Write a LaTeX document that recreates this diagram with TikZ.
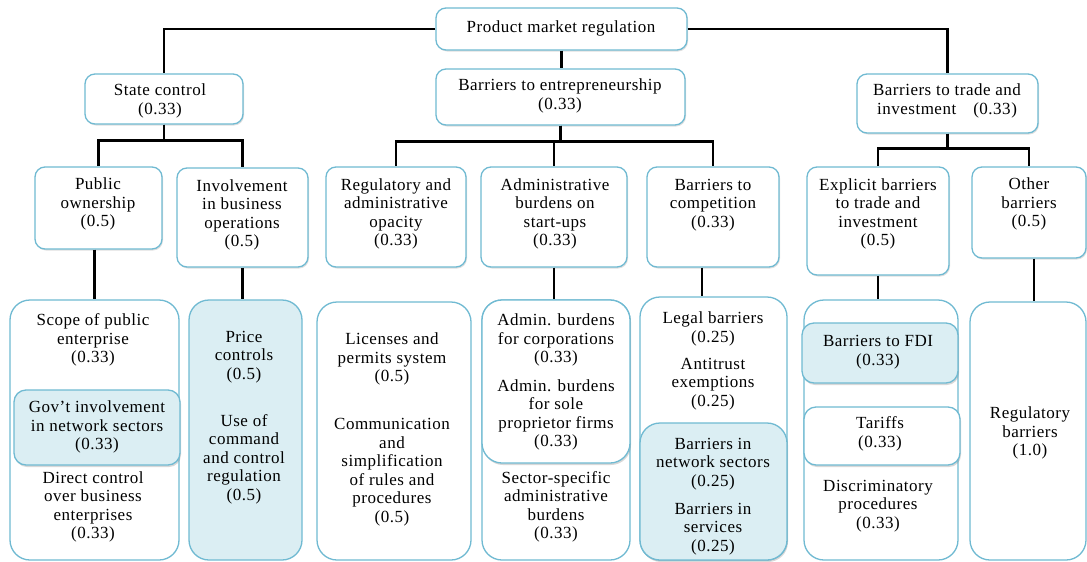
\documentclass[tikz,border=0pt]{standalone}
\usepackage{fontspec}
\setmainfont[LetterSpace=3]{Liberation Serif}
\usetikzlibrary{fit,shadows}
\definecolor{bxline}{RGB}{112,186,210}
\definecolor{bxfill}{RGB}{219,238,243}
\tikzset{
  upbox/.style={draw=bxline, line width=1.3pt, fill=white, rounded corners=10pt, inner sep=0pt,
    drop shadow={opacity=0.25, shadow xshift=1pt, shadow yshift=-1.5pt}},
  lowbox/.style={draw=bxline, line width=1.3pt, fill=white, rounded corners=20pt, inner sep=0pt},
  innerbox/.style={draw=bxline, line width=1.3pt, fill=white, rounded corners=12pt, inner sep=0pt,
    drop shadow={opacity=0.3, shadow xshift=1pt, shadow yshift=-2pt}},
  bluebox/.style={innerbox, fill=bxfill},
  lbl/.style={align=center, inner sep=0pt, text=black},
  conn/.style={draw=black, line width=2.4pt}
}
\begin{document}
\begin{tikzpicture}[x=1pt,y=-1pt, font=\fontsize{17}{18.5}\selectfont]
\useasboundingbox[fill=white] (0,0) rectangle (1087,562);

% ---------- upper level boxes ----------
\node[upbox, fit={(436,8)(687,50)}] (top) {};
\node[upbox, fit={(85,74)(243,124)}] (sc) {};
\node[upbox, fit={(436,69)(685,125)}] (be) {};
\node[upbox, fit={(857,74)(1038,133)}] (tr) {};

\node[upbox, fit={(35,167)(162,249)}] (pub) {};
\node[upbox, fit={(177,168)(308,267)}] (inv) {};
\node[upbox, fit={(326,167)(466,267)}] (reg) {};
\node[upbox, fit={(481,167)(627,267)}] (adm) {};
\node[upbox, fit={(647,167)(779,267)}] (comp) {};
\node[upbox, fit={(807,167)(949,275)}] (ex) {};
\node[upbox, fit={(972,167)(1086,258)}] (oth) {};

% ---------- lower level boxes ----------
\node[lowbox, fit={(10,300)(179,560)}] (scope) {};
\node[bluebox, fit={(14,390)(180,465)}] (gov) {};
\node[lowbox, fill=bxfill, fit={(189,300)(302,560)}] (price) {};
\node[lowbox, fit={(317,302)(471,560)}] (lic) {};
\node[lowbox, fit={(482,300)(630,560)}] (admL) {};
\node[innerbox, rounded corners=20pt, fit={(482,300)(630,463)}] (admI) {};
\node[lowbox, fit={(640,297)(787,560)}] (compL) {};
\node[bluebox, rounded corners=20pt, fit={(640,423)(787,560)}] (net) {};
\node[lowbox, fit={(804,300)(958,560)}] (exL) {};
\node[bluebox, fit={(802,323)(958,383)}] (fdi) {};
\node[innerbox, fit={(804,407)(960,465)}] (tar) {};
\node[lowbox, fit={(970,302)(1086,560)}] (othL) {};

% ---------- connectors ----------
\draw[conn] (top.west) -| (sc.north);
\draw[conn] (top.east) -| (tr.north);
\draw[conn] (top.south) -- (top.south |- be.north);
\draw[conn] (sc.south) -- ++(0,16) -| (pub.north);
\draw[conn] (sc.south) -- ++(0,16) -| (inv.north);
\draw[conn] (be.south) -- ++(0,16) -| (reg.north);
\draw[conn] (be.south) -- ++(0,16) -| (adm.north);
\draw[conn] (be.south) -- ++(0,16) -| (comp.north);
\draw[conn] (tr.south) -- ++(0,15) -| (ex.north);
\draw[conn] (tr.south) -- ++(0,15) -| (oth.north);
\draw[conn] (scope.north |- pub.south) -- (scope.north);
\draw[conn] (inv.south) -- (inv.south |- price.north);
\draw[conn] (adm.south) -- (adm.south |- admI.north);
\draw[conn] ([xshift=-11pt]comp.south) -- ([xshift=-11pt]comp.south |- compL.north);
\draw[conn] (ex.south) -- (ex.south |- exL.north);
\draw[conn] ([xshift=5pt]oth.south) -- ([xshift=5pt]oth.south |- othL.north);

% ---------- upper texts ----------
\node[lbl] (tTop) at (561,28) {Product market regulation};
\node[lbl] (tSc) at (160,101) {State control\\(0.33)};
\node[lbl] (tBe) at (560,96) {Barriers to entrepreneurship\\(0.33)};
\node[lbl] (tTr) at (947,101) {Barriers to trade and\\investment\quad(0.33)};
\node[lbl] (tPub) at (98,204) {Public\\ownership\\(0.5)};
\node[lbl] (tInv) at (242,215) {Involvement\\in business\\operations\\(0.5)};
\node[lbl] (tReg) at (396,214) {Regulatory and\\administrative\\opacity\\(0.33)};
\node[lbl] (tAdm) at (555,214) {Administrative\\burdens on\\start-ups\\(0.33)};
\node[lbl] (tComp) at (713,205) {Barriers to\\competition\\(0.33)};
\node[lbl] (tEx) at (878,214) {Explicit barriers\\to trade and\\investment\\(0.5)};
\node[lbl] (tOth) at (1029,204) {Other\\barriers\\(0.5)};

% ---------- lower texts ----------
\node[lbl] (tScope) at (93,340) {Scope of public\\enterprise\\(0.33)};
\node[lbl] (tGov) at (97,427) {Gov’t involvement\\in network sectors\\(0.33)};
\node[lbl] (tDir) at (93,507) {Direct control\\over business\\enterprises\\(0.33)};
\node[lbl] (tPrice) at (244,357) {Price\\controls\\(0.5)};
\node[lbl] (tUse) at (244,459) {Use of\\command\\and control\\regulation\\(0.5)};
\node[lbl] (tLic) at (392,359) {Licenses and\\permits system\\(0.5)};
\node[lbl] (tCom) at (392,472) {Communication\\and\\simplification\\of rules and\\procedures\\(0.5)};
\node[lbl] (tCorp) at (556,340) {Admin. burdens\\for corporations\\(0.33)};
\node[lbl] (tSole) at (556,415) {Admin. burdens\\for sole\\proprietor firms\\(0.33)};
\node[lbl] (tSec) at (556,507) {Sector-specific\\administrative\\burdens\\(0.33)};
\node[lbl] (tLeg) at (713,329) {Legal barriers\\(0.25)};
\node[lbl] (tAnti) at (713,384) {Antitrust\\exemptions\\(0.25)};
\node[lbl] (tNet) at (713,464) {Barriers in\\network sectors\\(0.25)};
\node[lbl] (tServ) at (713,529) {Barriers in\\services\\(0.25)};
\node[lbl] (tFdi) at (878,352) {Barriers to FDI\\(0.33)};
\node[lbl] (tTar) at (880,434) {Tariffs\\(0.33)};
\node[lbl] (tDis) at (878,506) {Discriminatory\\procedures\\(0.33)};
\node[lbl] (tRb) at (1030,433) {Regulatory\\barriers\\(1.0)};
\end{tikzpicture}
\end{document}
